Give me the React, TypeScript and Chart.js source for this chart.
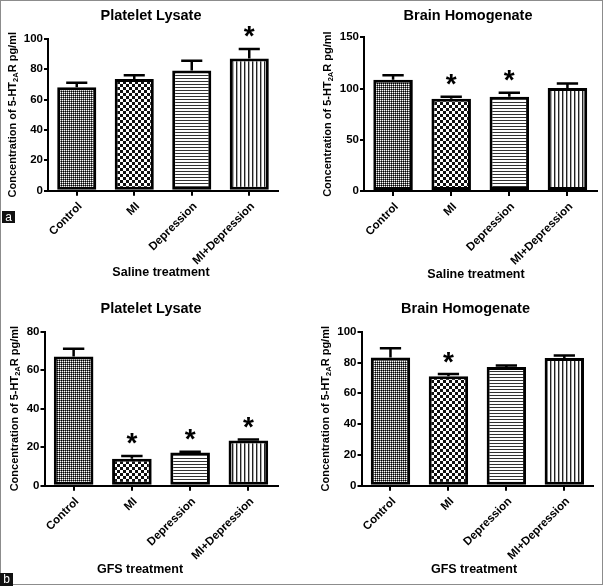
import React, { useEffect, useRef } from "react";
import { Chart, registerables } from "chart.js";
Chart.register(...registerables);

// ---------- data ----------
const categories = ["Control", "MI", "Depression", "MI+Depression"];

const salinePlateletValues = [68, 73.5, 79, 87];
const salinePlateletErrors = [3, 2.5, 6.5, 6.3];
const salinePlateletSig = [false, false, false, true];

const salineBrainValues = [108.5, 90, 92, 100.5];
const salineBrainErrors = [4.5, 2, 4, 4.5];
const salineBrainSig = [false, true, true, false];

const gfsPlateletValues = [67, 14, 17.3, 23.5];
const gfsPlateletErrors = [4, 1.5, 0.4, 0.5];
const gfsPlateletSig = [false, true, true, true];

const gfsBrainValues = [83.3, 71, 77, 83];
const gfsBrainErrors = [6, 1.5, 1, 1.5];
const gfsBrainSig = [false, true, false, false];

const titlePlatelet = "Platelet Lysate";
const titleBrain = "Brain Homogenate";
const xTitleSaline = "Saline treatment";
const xTitleGFS = "GFS treatment";
const yTitleParts = ["Concentration of 5-HT", "2A", "R pg/ml"];

const FONT = '"Liberation Sans", Arial, Helvetica, sans-serif';

// ---------- layout ----------
type Panel = {
  left: number; top: number; width: number; height: number;
  pad: { left: number; right: number; top: number; bottom: number };
  yMax: number; yStep: number;
  values: number[]; errors: number[]; sig: boolean[];
  title: string; titleX: number; titleY: number;
  yTitleX: number; xTitle: string; xTitleX: number; xTitleY: number;
};

const panels: Panel[] = [
  {
    left: 0, top: 0, width: 302, height: 293,
    pad: { left: 18, right: 24, top: 38.7, bottom: 22.3 },
    yMax: 100, yStep: 20,
    values: salinePlateletValues, errors: salinePlateletErrors, sig: salinePlateletSig,
    title: titlePlatelet, titleX: 151, titleY: 16,
    yTitleX: 13, xTitle: xTitleSaline, xTitleX: 161, xTitleY: 273,
  },
  {
    left: 302, top: 0, width: 303, height: 293,
    pad: { left: 32, right: 8.5, top: 37.3, bottom: 22 },
    yMax: 150, yStep: 50,
    values: salineBrainValues, errors: salineBrainErrors, sig: salineBrainSig,
    title: titleBrain, titleX: 166, titleY: 16,
    yTitleX: 26, xTitle: xTitleSaline, xTitleX: 174, xTitleY: 275,
  },
  {
    left: 0, top: 293, width: 302, height: 293,
    pad: { left: 14.5, right: 24.5, top: 38.5, bottom: 20.2 },
    yMax: 80, yStep: 20,
    values: gfsPlateletValues, errors: gfsPlateletErrors, sig: gfsPlateletSig,
    title: titlePlatelet, titleX: 151, titleY: 16,
    yTitleX: 14.5, xTitle: xTitleGFS, xTitleX: 140, xTitleY: 277,
  },
  {
    left: 302, top: 293, width: 303, height: 293,
    pad: { left: 29.5, right: 11.7, top: 38.7, bottom: 20.3 },
    yMax: 100, yStep: 20,
    values: gfsBrainValues, errors: gfsBrainErrors, sig: gfsBrainSig,
    title: titleBrain, titleX: 163.5, titleY: 16,
    yTitleX: 24, xTitle: xTitleGFS, xTitleX: 172, xTitleY: 277,
  },
];

function makePatterns(ctx: CanvasRenderingContext2D) {
  const tile = (w: number, h: number, draw: (t: CanvasRenderingContext2D) => void) => {
    const c = document.createElement("canvas");
    c.width = w; c.height = h;
    const t = c.getContext("2d")!;
    t.fillStyle = "#fff";
    t.fillRect(0, 0, w, h);
    draw(t);
    return ctx.createPattern(c, "repeat")!;
  };
  const fine = tile(2, 2, (t) => {
    t.fillStyle = "#000"; t.fillRect(1, 1, 1, 1);
    t.fillStyle = "#666"; t.fillRect(1, 0, 1, 1); t.fillRect(0, 1, 1, 1);
  });
  const check = tile(6, 6, (t) => {
    t.fillStyle = "#111"; t.fillRect(0, 0, 3, 3); t.fillRect(3, 3, 3, 3);
  });
  const hlines = tile(4, 3, (t) => {
    t.fillStyle = "#333"; t.fillRect(0, 0, 4, 1);
  });
  const vlines = tile(4, 4, (t) => {
    t.fillStyle = "#222"; t.fillRect(0, 0, 1, 4);
    t.fillStyle = "#aaa"; t.fillRect(1, 0, 1, 4);
  });
  return [fine, check, hlines, vlines];
}

function annotPlugin(p: Panel) {
  return {
    id: "annot",
    afterDatasetsDraw(chart: any) {
      const { ctx } = chart;
      const meta = chart.getDatasetMeta(0);
      const y = chart.scales.y;
      ctx.save();
      ctx.strokeStyle = "#000";
      ctx.fillStyle = "#000";
      ctx.lineWidth = 2.5;
      p.values.forEach((v, i) => {
        const bar = meta.data[i];
        const x = bar.x;
        const top = y.getPixelForValue(v);
        const capY = y.getPixelForValue(v + p.errors[i]);
        const half = bar.width * 0.27;
        ctx.beginPath();
        ctx.moveTo(x, top);
        ctx.lineTo(x, capY);
        ctx.moveTo(x - half, capY);
        ctx.lineTo(x + half, capY);
        ctx.stroke();
        if (p.sig[i]) {
          ctx.font = `bold 28px ${FONT}`;
          ctx.textAlign = "center";
          ctx.textBaseline = "alphabetic";
          const m = ctx.measureText("*");
          const cy = capY - 17;
          const base = cy + (m.actualBoundingBoxAscent - m.actualBoundingBoxDescent) / 2;
          ctx.fillText("*", x, base);
        }
      });
      ctx.restore();
    },
    afterDraw(chart: any) {
      const { ctx, chartArea } = chart;
      ctx.save();
      ctx.fillStyle = "#000";
      // title
      ctx.font = `bold 14.5px ${FONT}`;
      ctx.textAlign = "center";
      ctx.textBaseline = "middle";
      ctx.fillText(p.title, p.titleX, p.titleY);
      // x title
      ctx.font = `bold 12.5px ${FONT}`;
      ctx.fillText(p.xTitle, p.xTitleX, p.xTitleY);
      // y title with subscript
      const big = `bold 11px ${FONT}`;
      const small = `bold 7.5px ${FONT}`;
      ctx.font = big;
      const w0 = ctx.measureText(yTitleParts[0]).width;
      const w2 = ctx.measureText(yTitleParts[2]).width;
      ctx.font = small;
      const w1 = ctx.measureText(yTitleParts[1]).width;
      const total = w0 + w1 + w2;
      const cy = (chartArea.top + chartArea.bottom) / 2;
      ctx.translate(p.yTitleX, cy);
      ctx.rotate(-Math.PI / 2);
      ctx.textAlign = "left";
      ctx.textBaseline = "middle";
      let xx = -total / 2;
      ctx.font = big;
      ctx.fillText(yTitleParts[0], xx, 0);
      xx += w0;
      ctx.font = small;
      ctx.fillText(yTitleParts[1], xx, 3);
      xx += w1;
      ctx.font = big;
      ctx.fillText(yTitleParts[2], xx, 0);
      ctx.restore();
    },
  };
}

function PanelChart({ p }: { p: Panel }) {
  const ref = useRef<HTMLCanvasElement>(null);
  useEffect(() => {
    const canvas = ref.current!;
    const ctx = canvas.getContext("2d")!;
    const pats = makePatterns(ctx);
    const chart = new Chart(canvas, {
      type: "bar",
      data: {
        labels: categories,
        datasets: [
          {
            data: p.values,
            backgroundColor: pats as any,
            borderColor: "#000",
            borderWidth: 3,
            borderSkipped: false,
            barPercentage: 0.68,
            categoryPercentage: 1,
          },
        ],
      },
      options: {
        responsive: false,
        animation: false,
        layout: { padding: p.pad },
        plugins: { legend: { display: false }, tooltip: { enabled: false }, title: { display: false } },
        scales: {
          x: {
            offset: true,
            grid: { offset: false, drawOnChartArea: false, drawTicks: true, tickLength: 5, color: "#000", lineWidth: 2 },
            border: { color: "#000", width: 2 },
            ticks: {
              autoSkip: false, maxRotation: 45, minRotation: 45, color: "#000", padding: 4, labelOffset: 3.5,
              font: { family: FONT, size: 11.5, weight: "bold" },
            },
            afterFit: (s: any) => { s.height = 80; },
          },
          y: {
            min: 0, max: p.yMax,
            grid: { drawOnChartArea: false, drawTicks: true, tickLength: 4, color: "#000", lineWidth: 2 },
            border: { color: "#000", width: 2 },
            ticks: {
              stepSize: p.yStep, color: "#000", padding: 1,
              font: { family: FONT, size: 11.5, weight: "bold" },
            },
            afterFit: (s: any) => { s.width = 30; },
          },
        },
      },
      plugins: [annotPlugin(p)],
    });
    return () => chart.destroy();
  }, [p]);
  return (
    <canvas
      ref={ref}
      width={p.width}
      height={p.height}
      style={{ position: "absolute", left: p.left, top: p.top, width: p.width, height: p.height }}
    />
  );
}

const labelStyle: React.CSSProperties = {
  position: "absolute",
  background: "#111",
  color: "#fff",
  fontFamily: FONT,
  fontSize: 12,
  lineHeight: "12px",
  textAlign: "center",
  zIndex: 2,
};

export default function App() {
  return (
    <div style={{ position: "fixed", left: 0, top: 0, width: 605, height: 586, background: "#fff", overflow: "hidden" }}>
      {panels.map((p, i) => (
        <PanelChart key={i} p={p} />
      ))}
      <div
        style={{
          position: "absolute", left: 0, top: 0, width: 603, height: 585,
          border: "1.5px solid #8c8c8c", boxSizing: "border-box", zIndex: 1, pointerEvents: "none",
        }}
      />
      <div style={{ ...labelStyle, left: 2, top: 211, width: 13, height: 12 }}>a</div>
      <div style={{ ...labelStyle, left: 0, top: 573, width: 13, height: 13 }}>b</div>
    </div>
  );
}
